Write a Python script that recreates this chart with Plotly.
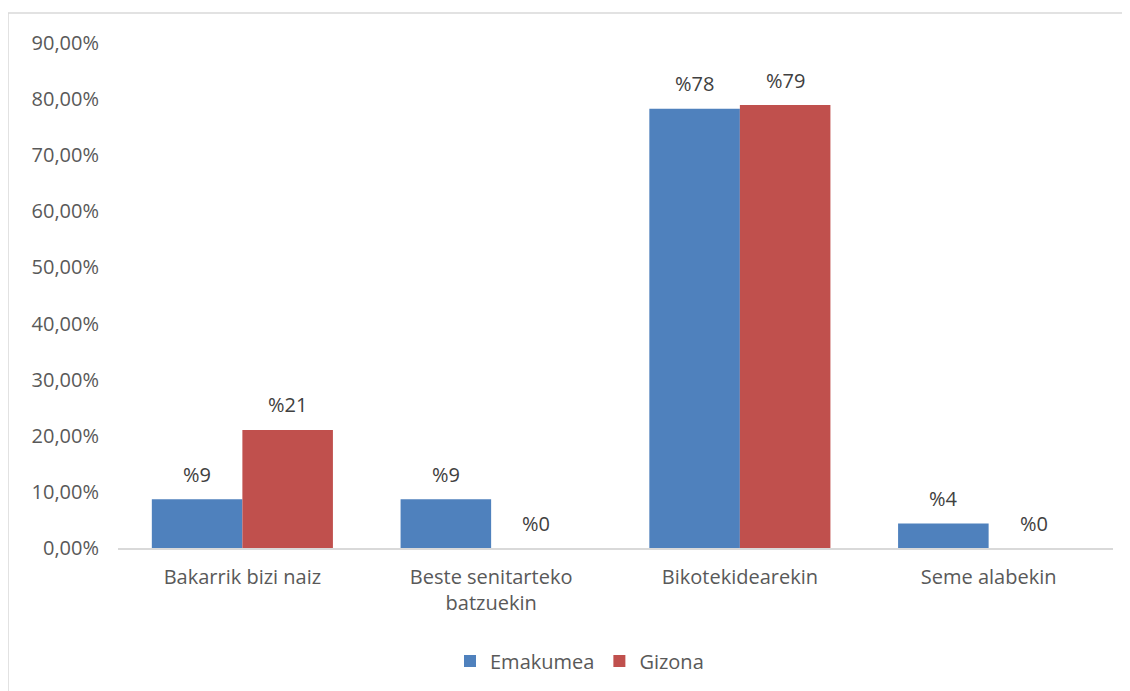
import plotly.graph_objects as go

categories = ["Bakarrik bizi naiz", "Beste senitarteko<br>batzuekin", "Bikotekidearekin", "Seme alabekin"]
series_names = ["Emakumea", "Gizona"]
emakumea = [8.70, 8.70, 78.26, 4.35]
gizona = [21.05, 0.0, 78.95, 0.0]
colors = ["#4F81BD", "#C0504D"]
tick_vals = [0, 10, 20, 30, 40, 50, 60, 70, 80, 90]
tick_text = ["0,00%", "10,00%", "20,00%", "30,00%", "40,00%", "50,00%", "60,00%", "70,00%", "80,00%", "90,00%"]

FONT = "'Open Sans', sans-serif"
FS = 20
OFF = 8  # page body margin offset
W, H = 1130, 691
L, T = 118 - OFF, 43 - OFF
R = W - (1113 - OFF)
B = H - (548 - OFF)
plot_w = W - L - R
plot_h = H - T - B

fig = go.Figure()
for name, vals, col in zip(series_names, [emakumea, gizona], colors):
    fig.add_trace(go.Bar(x=categories, y=vals, name=name, marker=dict(color=col, line=dict(width=0))))

bargap = 0.272
cat_w = plot_w / len(categories)
bar_w = cat_w * (1 - bargap) / 2
annotations = []
for i, vals in enumerate([emakumea, gizona]):
    shift = (-0.5 if i == 0 else 0.5) * bar_w
    for c, v in zip(categories, vals):
        annotations.append(dict(x=c, y=v, xref="x", yref="y", text="%" + str(round(v)),
                                showarrow=False, xshift=shift, yshift=25, yanchor="middle",
                                font=dict(family=FONT, size=FS, color="#404040")))

fig.update_layout(
    width=W, height=H,
    margin=dict(l=L, r=R, t=T, b=B),
    paper_bgcolor="white", plot_bgcolor="white",
    barmode="group", bargap=bargap, bargroupgap=0,
    font=dict(family=FONT, size=FS, color="#595959"),
    xaxis=dict(showgrid=False, showline=True, linecolor="#D9D9D9", linewidth=1.5,
               ticks="", ticklabelstandoff=10, tickfont=dict(size=FS, color="#595959")),
    yaxis=dict(range=[0, 90], tickvals=tick_vals, ticktext=tick_text, showgrid=False,
               zeroline=False, showline=False, ticks="", ticklabelstandoff=18,
               tickfont=dict(size=FS, color="#595959")),
    legend=dict(orientation="h", x=(579.5 - OFF - L) / plot_w, xanchor="center",
                y=(H - B - (661 - OFF)) / plot_h, yanchor="middle",
                font=dict(size=FS, color="#595959"), itemwidth=30, tracegroupgap=0),
    annotations=annotations,
    shapes=[dict(type="rect", xref="paper", yref="paper",
                 x0=(8 - OFF - L) / plot_w, x1=(1140 - L) / plot_w,
                 y0=(H - B - 700) / plot_h, y1=(H - B - (13 - OFF)) / plot_h,
                 line=dict(color="#D9D9D9", width=1.5), fillcolor="rgba(0,0,0,0)", layer="below")],
)

fig.write_html("out.html")
